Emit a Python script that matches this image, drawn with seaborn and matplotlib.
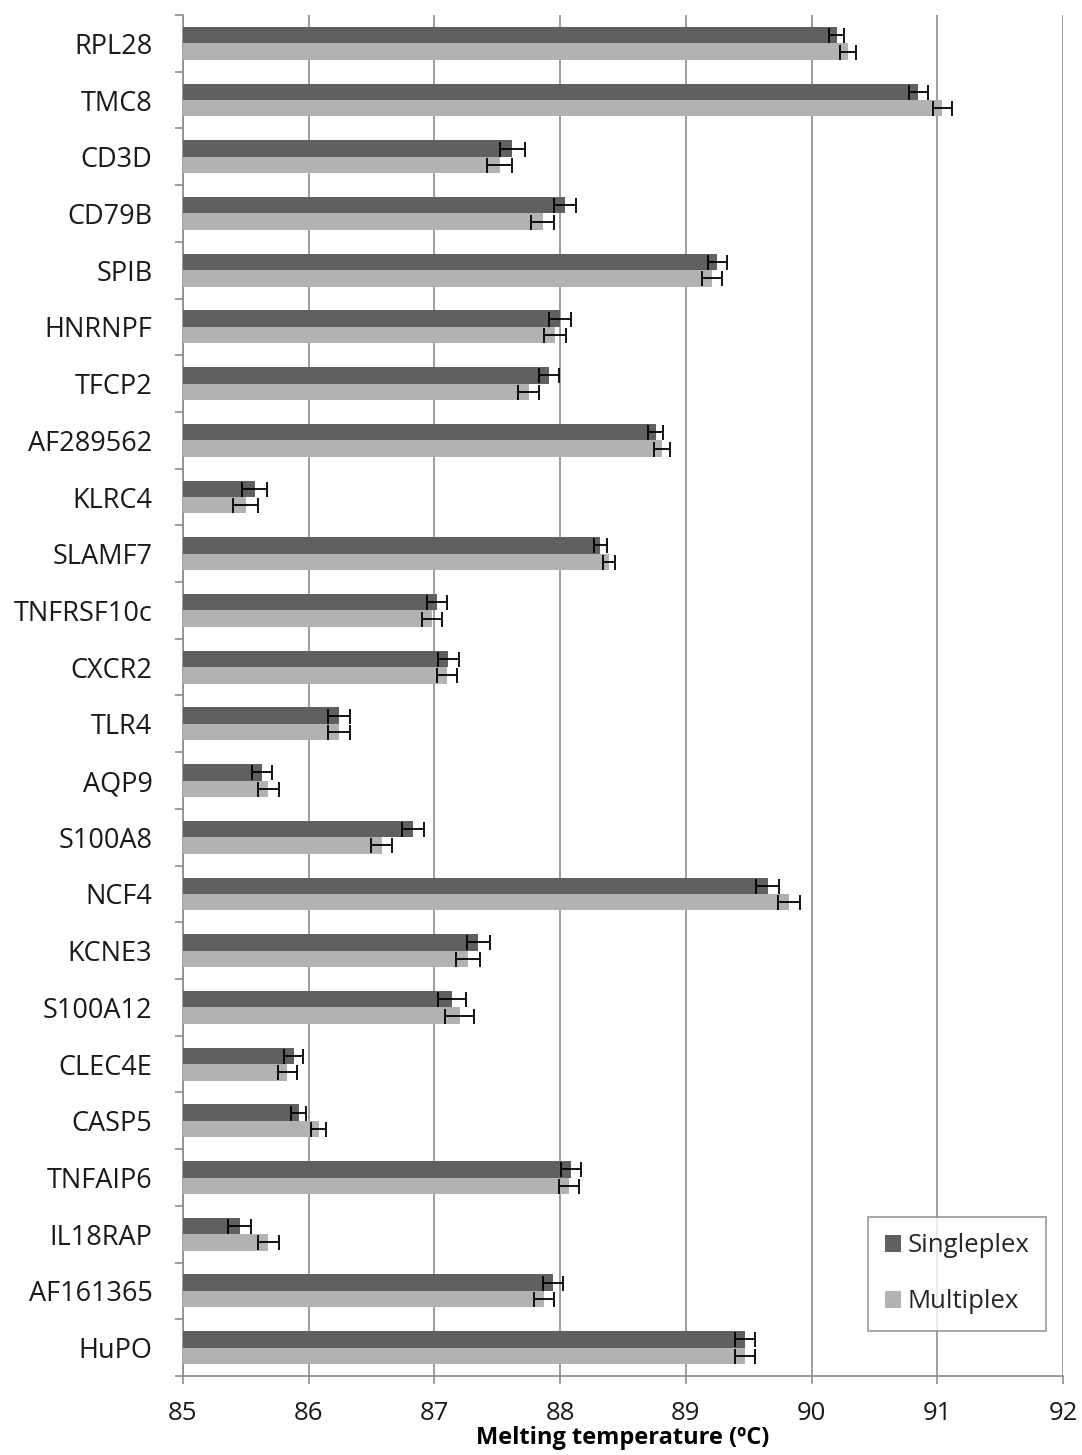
import numpy as np
import pandas as pd
import matplotlib
matplotlib.use("Agg")
import matplotlib.pyplot as plt
import seaborn as sns
from matplotlib.ticker import FixedLocator

genes = ["RPL28", "TMC8", "CD3D", "CD79B", "SPIB", "HNRNPF", "TFCP2", "AF289562",
         "KLRC4", "SLAMF7", "TNFRSF10c", "CXCR2", "TLR4", "AQP9", "S100A8", "NCF4",
         "KCNE3", "S100A12", "CLEC4E", "CASP5", "TNFAIP6", "IL18RAP", "AF161365", "HuPO"]

singleplex_tm = [90.20, 90.85, 87.62, 88.04, 89.25, 88.00, 87.91, 88.76,
                 85.57, 88.32, 87.02, 87.11, 86.24, 85.63, 86.83, 89.65,
                 87.35, 87.14, 85.88, 85.92, 88.09, 85.45, 87.94, 89.47]
singleplex_err = [0.06, 0.075, 0.10, 0.09, 0.075, 0.09, 0.08, 0.06,
                  0.10, 0.05, 0.08, 0.085, 0.085, 0.08, 0.085, 0.095,
                  0.09, 0.11, 0.075, 0.06, 0.08, 0.09, 0.08, 0.08]

multiplex_tm = [90.29, 91.04, 87.52, 87.86, 89.21, 87.96, 87.75, 88.81,
                85.50, 88.39, 86.98, 87.10, 86.24, 85.68, 86.58, 89.82,
                87.27, 87.20, 85.83, 86.08, 88.07, 85.68, 87.87, 89.47]
multiplex_err = [0.065, 0.075, 0.10, 0.09, 0.08, 0.09, 0.085, 0.065,
                 0.10, 0.05, 0.08, 0.08, 0.085, 0.08, 0.085, 0.085,
                 0.095, 0.115, 0.075, 0.06, 0.08, 0.08, 0.08, 0.08]

series = ["Singleplex", "Multiplex"]
colors = ["#606060", "#b2b2b2"]
x_ticks = [85, 86, 87, 88, 89, 90, 91, 92]

df = pd.DataFrame({
    "gene": genes * 2,
    "tm": singleplex_tm + multiplex_tm,
    "err": singleplex_err + multiplex_err,
    "assay": [series[0]] * len(genes) + [series[1]] * len(genes),
})

sns.set_theme(style="white")
plt.rcParams["font.family"] = ["Open Sans", "DejaVu Sans"]

fig = plt.figure(figsize=(10.82, 14.55), dpi=100)
ax = fig.add_axes([0.1691, 0.0543, 0.8133, 0.9354])

sns.barplot(data=df, y="gene", x="tm", hue="assay", order=genes, hue_order=series,
            palette=colors, orient="h", width=0.58, errorbar=None, saturation=1,
            linewidth=0, ax=ax, zorder=3)

# baseline at 85 degrees: bars start from the left edge of the axis
for p in ax.patches:
    if p.get_width() > 0:
        p.set_x(85)
        p.set_width(p.get_width() - 85)

# error bars placed at each bar's centre
for i, name in enumerate(series):
    cont = ax.containers[i]
    sub = df[df["assay"] == name].set_index("gene").loc[genes]
    ys = [b.get_y() + b.get_height() / 2 for b in cont]
    ax.errorbar(sub["tm"].values, ys, xerr=sub["err"].values, fmt="none",
                ecolor="black", elinewidth=1.3, capsize=5.4, capthick=1.3, zorder=4)

ax.set_xlim(85, 92)
ax.set_ylim(len(genes) - 0.5, -0.5)
ax.xaxis.set_major_locator(FixedLocator(x_ticks))
ax.grid(axis="x", color="#8c8c8c", linewidth=1.2, zorder=0)
ax.set_axisbelow(True)

for s in ["top", "right"]:
    ax.spines[s].set_visible(False)
for s in ["left", "bottom"]:
    ax.spines[s].set_color("#8c8c8c")
    ax.spines[s].set_linewidth(1.2)

ax.yaxis.set_minor_locator(FixedLocator(np.arange(-0.5, len(genes), 1.0)))
ax.tick_params(axis="y", which="major", length=0, pad=22, labelsize=19.5, labelcolor="#1a1a1a")
ax.tick_params(axis="y", which="minor", left=True, length=6, width=1.2, color="#8c8c8c")
ax.tick_params(axis="x", which="major", bottom=True, length=6, width=1.2, color="#8c8c8c",
               pad=12, labelsize=18.5, labelcolor="#1a1a1a")

ax.set_ylabel("")
ax.set_xlabel("Melting temperature (ºC)", fontsize=17, fontweight="bold", labelpad=0,
              color="black")

leg = ax.legend(loc="upper right", bbox_to_anchor=(0.981, 0.117), fontsize=18.5,
                frameon=True, fancybox=False, edgecolor="#808080", handlelength=0.65,
                handleheight=0.65, handletextpad=0.25, labelspacing=1.2,
                borderpad=0.65, borderaxespad=0)
leg.get_frame().set_linewidth(1.2)

fig.savefig("out.png", dpi=100, facecolor="white")
